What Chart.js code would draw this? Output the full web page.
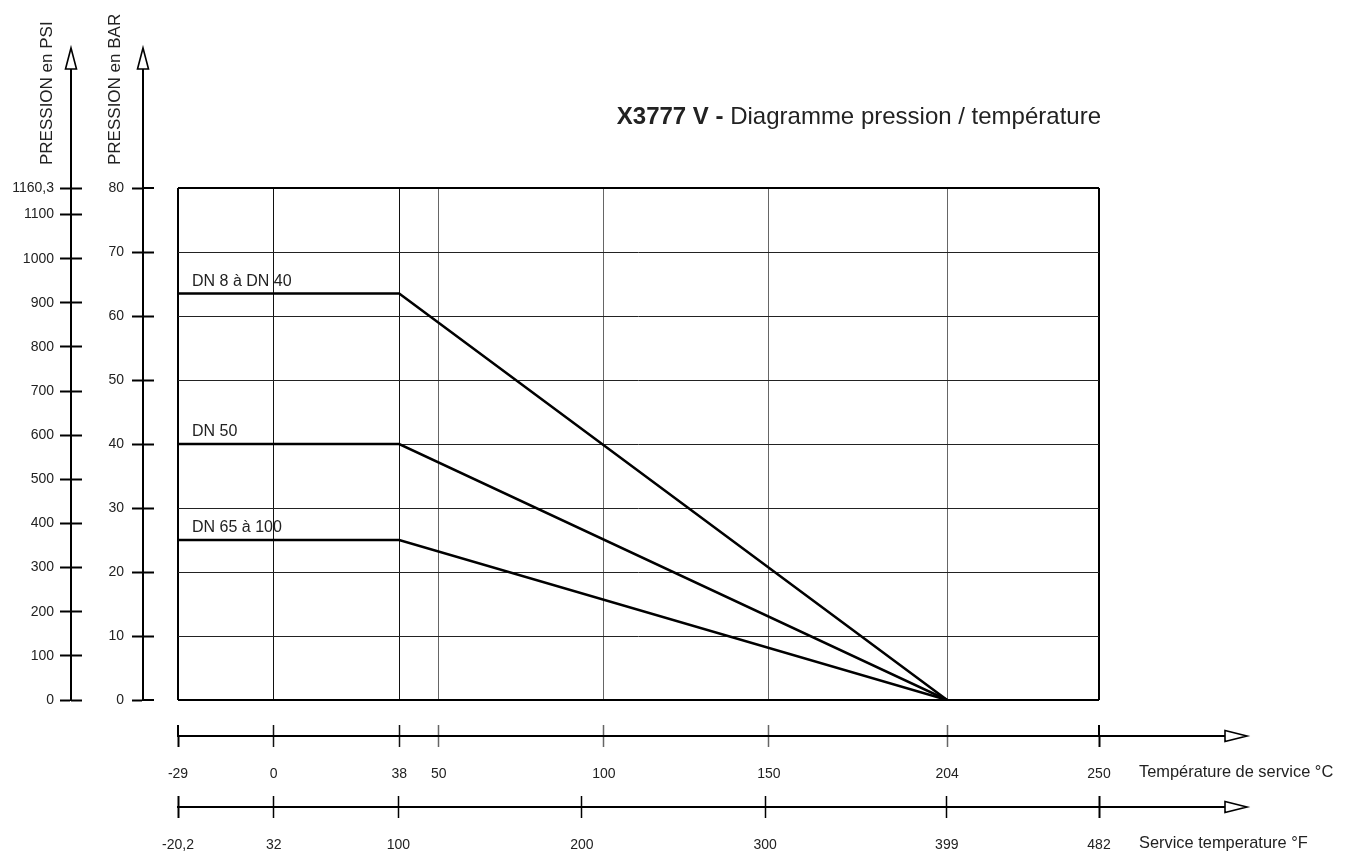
<!DOCTYPE html>
<html lang="fr">
<head>
<meta charset="UTF-8" />
<title>X3777 V - Diagramme pression / température</title>
<script src="https://cdn.jsdelivr.net/npm/chart.js"></script>
<style>
  html, body { margin: 0; background: #fff; }
  #chart { display: block; }
</style>
</head>
<body>
<canvas id="chart" width="1350" height="852"></canvas>
<script>
// data
const seriesNames = ['DN 8 à DN 40', 'DN 50', 'DN 65 à 100'];
const tempC = [-29, 38, 204];
const pressDN8 = [63.5, 63.5, 0];
const pressDN50 = [40, 40, 0];
const pressDN65 = [25, 25, 0];

// axis ticks
const ticksC = [-29, 0, 38, 50, 100, 150, 204, 250];
const labelsC = ['-29', '0', '38', '50', '100', '150', '204', '250'];
const ticksF = [-20.2, 32, 100, 200, 300, 399, 482];
const labelsF = ['-20,2', '32', '100', '200', '300', '399', '482'];
const ticksBar = [0, 10, 20, 30, 40, 50, 60, 70, 80];
const ticksPsi = [0, 100, 200, 300, 400, 500, 600, 700, 800, 900, 1000, 1100, 1160.3];
const labelsPsi = ['0', '100', '200', '300', '400', '500', '600', '700', '800', '900', '1000', '1100', '1160,3'];

const FONT = "'Liberation Sans', Arial, sans-serif";
const TXT = '#222';

const fixTicks = vals => s => { s.ticks = vals.map(v => ({ value: v })); };
const fixW = w => s => { s.width = w; };
const fixH = h => s => { s.height = h; };
const isEnd = (v, a) => v === a[0] || v === a[a.length - 1];

const vColor = c => {
  const v = c.tick ? c.tick.value : null;
  if (isEnd(v, ticksC)) return '#000';
  if (v === 0 || v === 38) return '#111';
  return '#666';
};
const vWidth = c => (c.tick && isEnd(c.tick.value, ticksC)) ? 2 : 1;
const hColor = c => (c.tick && isEnd(c.tick.value, ticksBar)) ? '#000' : '#222';
const hWidth = c => (c.tick && isEnd(c.tick.value, ticksBar)) ? 2 : 1;

const toPts = ys => tempC.map((t, i) => ({ x: t, y: ys[i] }));

const decor = {
  id: 'decor',
  afterDraw(chart) {
    const { ctx, chartArea: ca, scales } = chart;
    ctx.save();
    ctx.strokeStyle = '#000';
    ctx.fillStyle = '#fff';

    // vertical axes: extend up and add an open arrow
    ['yBar', 'yPsi'].forEach(id => {
      const x = scales[id].right;
      ctx.lineWidth = 2;
      ctx.beginPath(); ctx.moveTo(x, ca.top); ctx.lineTo(x, 69); ctx.stroke();
      ctx.lineWidth = 1.6;
      ctx.beginPath(); ctx.moveTo(x, 48); ctx.lineTo(x + 5.5, 69); ctx.lineTo(x - 5.5, 69); ctx.closePath();
      ctx.fill(); ctx.stroke();
    });
    // horizontal axes: extend right and add an open arrow
    const ax = ca.right + 126;
    ['xC', 'xF'].forEach(id => {
      const y = scales[id].top;
      ctx.lineWidth = 2;
      ctx.beginPath(); ctx.moveTo(ca.right, y); ctx.lineTo(ax, y); ctx.stroke();
      ctx.lineWidth = 1.6;
      ctx.beginPath(); ctx.moveTo(ax + 22, y); ctx.lineTo(ax, y - 5.5); ctx.lineTo(ax, y + 5.5); ctx.closePath();
      ctx.fill(); ctx.stroke();
    });

    ctx.fillStyle = TXT;
    ctx.textBaseline = 'middle';
    ctx.textAlign = 'left';
    ctx.font = '16.4px ' + FONT;
    ctx.fillText('Température de service °C', ca.right + 40, scales.xC.top + 36);
    ctx.fillText('Service temperature °F', ca.right + 40, scales.xF.top + 36);

    // axis titles, rotated
    ctx.font = '17px ' + FONT;
    [['PRESSION en PSI', 52], ['PRESSION en BAR', 120]].forEach(([t, x]) => {
      ctx.save();
      ctx.translate(x, 165);
      ctx.rotate(-Math.PI / 2);
      ctx.textBaseline = 'alphabetic';
      ctx.fillText(t, 0, 0);
      ctx.restore();
    });

    // series labels
    ctx.font = '16px ' + FONT;
    ctx.textBaseline = 'alphabetic';
    seriesNames.forEach((n, i) => {
      const p = chart.getDatasetMeta(i).data[0];
      ctx.fillText(n, p.x + 14, p.y - 8);
    });

    // title: bold part + regular part, right aligned
    const boldPart = 'X3777 V - ';
    const restPart = 'Diagramme pression / température';
    ctx.font = '24px ' + FONT;
    const wRest = ctx.measureText(restPart).width;
    ctx.font = 'bold 24px ' + FONT;
    const wBold = ctx.measureText(boldPart).width;
    const right = ca.right + 2;
    ctx.fillText(boldPart, right - wRest - wBold, 124);
    ctx.font = '24px ' + FONT;
    ctx.fillText(restPart, right - wRest, 124);
    ctx.restore();
  }
};

const lineDs = (label, ys) => ({
  label, data: toPts(ys), xAxisID: 'x', yAxisID: 'y',
  borderColor: '#000', borderWidth: 2.5, pointRadius: 0, tension: 0, fill: false
});

new Chart(document.getElementById('chart'), {
  type: 'line',
  data: {
    datasets: [
      lineDs(seriesNames[0], pressDN8),
      lineDs(seriesNames[1], pressDN50),
      lineDs(seriesNames[2], pressDN65)
    ]
  },
  options: {
    responsive: false,
    animation: false,
    devicePixelRatio: 1,
    layout: { padding: { left: 5, right: 251, top: 188, bottom: 0 } },
    plugins: { legend: { display: false }, tooltip: { enabled: false } },
    scales: {
      x: {
        type: 'linear', position: 'bottom', min: -29, max: 250, weight: 0,
        afterBuildTicks: fixTicks(ticksC), afterFit: fixH(36),
        ticks: { display: false },
        border: { display: false },
        grid: { color: vColor, lineWidth: vWidth, drawTicks: true, tickLength: 36,
                tickColor: vColor, tickWidth: c => vWidth(c) === 2 ? 2 : 1.5, tickBorderDash: [0, 25, 11, 100] }
      },
      xC: {
        type: 'linear', position: 'bottom', min: -29, max: 250, weight: 1,
        afterBuildTicks: fixTicks(ticksC), afterFit: fixH(50),
        ticks: { autoSkip: false, maxRotation: 0, padding: 19, color: TXT,
                 font: { size: 14, family: FONT }, callback: (v, i) => labelsC[i] },
        border: { display: true, color: '#000', width: 2 },
        grid: { drawOnChartArea: false, drawTicks: true, tickLength: 11,
                color: vColor, tickColor: vColor, tickWidth: c => vWidth(c) === 2 ? 2 : 1.5 }
      },
      xFgap: {
        type: 'linear', position: 'bottom', min: -20.2, max: 482, weight: 2,
        afterBuildTicks: fixTicks(ticksF), afterFit: fixH(21),
        ticks: { display: false },
        border: { display: false },
        grid: { drawOnChartArea: false, drawTicks: true, tickLength: 21, color: '#000',
                tickWidth: c => (c.tick && isEnd(c.tick.value, ticksF)) ? 2 : 1.5, tickBorderDash: [0, 10, 11, 100] }
      },
      xF: {
        type: 'linear', position: 'bottom', min: -20.2, max: 482, weight: 3,
        afterBuildTicks: fixTicks(ticksF), afterFit: fixH(45),
        ticks: { autoSkip: false, maxRotation: 0, padding: 19, color: TXT,
                 font: { size: 14, family: FONT }, callback: (v, i) => labelsF[i] },
        border: { display: true, color: '#000', width: 2 },
        grid: { drawOnChartArea: false, drawTicks: true, tickLength: 11, color: '#000',
                tickWidth: c => (c.tick && isEnd(c.tick.value, ticksF)) ? 2 : 1.5 }
      },
      y: {
        type: 'linear', position: 'left', min: 0, max: 80, weight: 0,
        afterBuildTicks: fixTicks(ticksBar), afterFit: fixW(35),
        ticks: { display: false },
        border: { display: false },
        grid: { color: hColor, lineWidth: hWidth, drawTicks: true, tickLength: 35,
                tickColor: '#000', tickWidth: 2, tickBorderDash: [11, 100] }
      },
      yBar: {
        type: 'linear', position: 'left', min: 0, max: 80, weight: 1,
        afterBuildTicks: fixTicks(ticksBar), afterFit: fixW(43),
        ticks: { padding: 8, color: TXT, font: { size: 14, family: FONT } },
        border: { display: true, color: '#000', width: 2 },
        grid: { drawOnChartArea: false, drawTicks: true, tickLength: 11, color: '#000', tickWidth: 2 }
      },
      yPsiGap: {
        type: 'linear', position: 'left', min: 0, max: 1160.3, weight: 2,
        afterBuildTicks: fixTicks(ticksPsi), afterFit: fixW(29),
        ticks: { display: false },
        border: { display: false },
        grid: { drawOnChartArea: false, drawTicks: true, tickLength: 29, color: '#000',
                tickWidth: 2, tickBorderDash: [11, 100] }
      },
      yPsi: {
        type: 'linear', position: 'left', min: 0, max: 1160.3, weight: 3,
        afterBuildTicks: fixTicks(ticksPsi), afterFit: fixW(66),
        ticks: { padding: 6, color: TXT, font: { size: 14, family: FONT },
                 callback: (v, i) => labelsPsi[i] },
        border: { display: true, color: '#000', width: 2 },
        grid: { drawOnChartArea: false, drawTicks: true, tickLength: 11, color: '#000', tickWidth: 2 }
      }
    }
  },
  plugins: [decor]
});
</script>
</body>
</html>
